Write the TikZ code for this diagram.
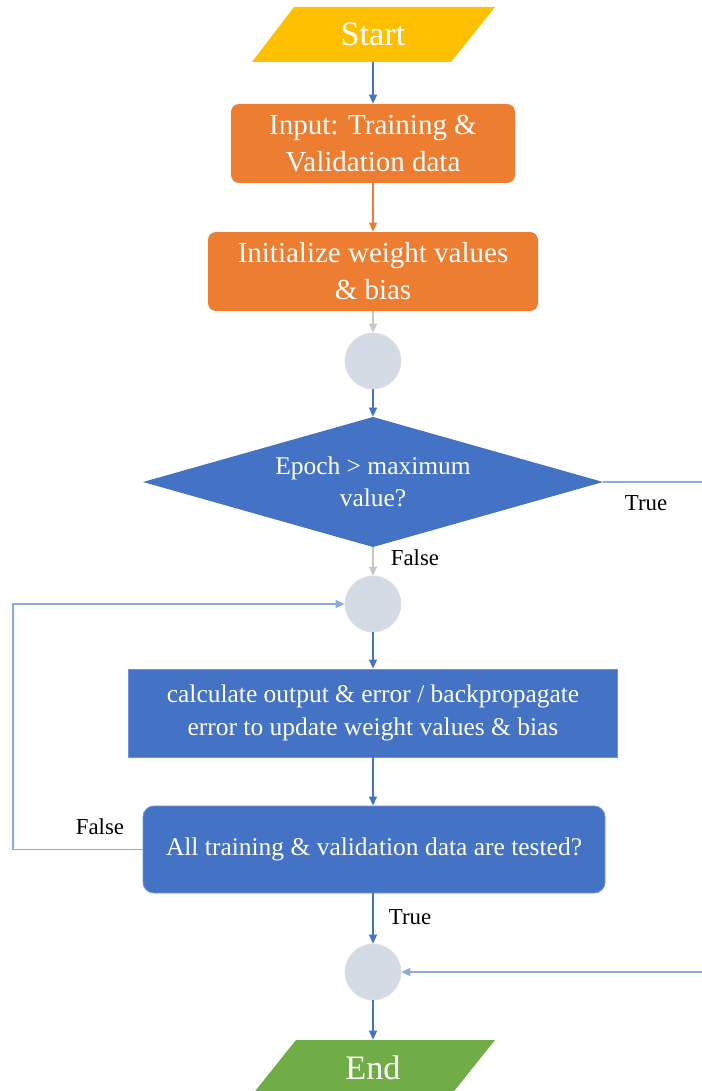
\documentclass[tikz,border=0pt]{standalone}
\usepackage{fontspec}
\setmainfont{Liberation Serif}
\usetikzlibrary{shapes.geometric,arrows.meta}
\definecolor{cblue}{HTML}{4472C4}
\definecolor{cborder}{HTML}{6F93D3}
\definecolor{corange}{HTML}{ED7D31}
\definecolor{cyellow}{HTML}{FFC000}
\definecolor{cgreen}{HTML}{70AD47}
\definecolor{cgray}{HTML}{D5DBE4}
\definecolor{cgrayline}{HTML}{C8C8C8}
\definecolor{clight}{HTML}{8FAADC}
\tikzset{
  orangebox/.style={rectangle, rounded corners=0.16cm, fill=corange, text=white, align=center, inner sep=0pt,
    font=\fontsize{16.5}{21}\selectfont},
  bluebox/.style={rectangle, fill=cblue, draw=cborder, line width=0.5pt, text=white, align=center, inner sep=0pt,
    font=\fontsize{14.5}{19}\selectfont},
  joint/.style={circle, fill=cgray, draw=cgray!80!white, line width=0.4pt, minimum size=56*0.02cm, inner sep=0pt},
  conn/.style={line width=0.8pt, -{Triangle[length=0.18cm,width=0.16cm]}},
  lbl/.style={font=\fontsize{13}{15}\selectfont, text=black, inner sep=0pt},
  termtext/.style={text=white, font=\fontsize{19.5}{22}\selectfont, inner sep=0pt}
}
\begin{document}
\begin{tikzpicture}[x=0.02cm,y=-0.02cm]
\useasboundingbox (0,0) rectangle (701,1091);

% Start terminal
\fill[cyellow] (294,7) -- (495,7) -- (451,62) -- (252,62) -- cycle;
\node[termtext, minimum width=200*0.02cm, minimum height=55*0.02cm] (start) at (373,34.5) {Start};

% Input
\node[orangebox, minimum width=284*0.02cm, minimum height=79*0.02cm] (input) at (373,143.5) {Input: Training \&\\Validation data};

% Initialize
\node[orangebox, minimum width=330*0.02cm, minimum height=79*0.02cm] (init) at (373,271.5) {Initialize weight values\\\& bias};

% joint 1
\node[joint] (c1) at (373,361) {};

% decision 1
\fill[cblue] (373,417) -- (603,482) -- (373,547) -- (143,482) -- cycle;
\node[rectangle, text=white, align=center, inner sep=0pt,
  minimum width=460*0.02cm, minimum height=130*0.02cm,
  font=\fontsize{14.5}{18}\selectfont] (dec1) at (373,482) {Epoch \textgreater{} maximum\\value?};

% joint 2
\node[joint] (c2) at (373,604) {};

% calculate box
\node[bluebox, minimum width=489*0.02cm, minimum height=88*0.02cm] (calc) at (373,713) {calculate output \& error / backpropagate\\error to update weight values \& bias};

% decision 2
\node[bluebox, rounded corners=0.22cm, minimum width=462*0.02cm, minimum height=87*0.02cm] (dec2) at (374,849.5) {All training \& validation data are tested?};

% joint 3
\node[joint] (c3) at (373,972) {};

% End terminal
\fill[cgreen] (296,1040) -- (495,1040) -- (451,1095) -- (252,1095) -- cycle;
\node[termtext, minimum width=200*0.02cm, minimum height=55*0.02cm] (end) at (373,1067.5) {End};

% connectors
\draw[conn, cblue] (start.south) -- (input.north);
\draw[conn, corange] (input.south) -- (init.north);
\draw[conn, cgrayline] (init.south) -- (c1.north);
\draw[conn, cblue] (c1.south) -- (dec1.north);
\draw[conn, cgrayline] (dec1.south) -- (c2.north);
\draw[conn, cblue] (c2.south) -- (calc.north);
\draw[conn, cblue] (calc.south) -- (calc.south |- dec2.north);
\draw[conn, cblue] (dec2.south -| c3.north) -- (c3.north);
\draw[conn, cblue] (c3.south) -- (end.north);

\coordinate (loopL) at (13,849.5);
\draw[conn, clight, line width=1pt] (dec2.west) -- (loopL) |- (c2.west);
\coordinate (trueR) at (730,482);
\draw[conn, clight, line width=1pt] (dec1.east) -- (trueR) |- (c3.east);

% labels
\node[lbl] (ltrue1) at (646,503) {True};
\node[lbl] (lfalse1) at (415,558) {False};
\node[lbl] (lfalse2) at (100,827) {False};
\node[lbl] (ltrue2) at (410,917) {True};
\end{tikzpicture}
\end{document}
